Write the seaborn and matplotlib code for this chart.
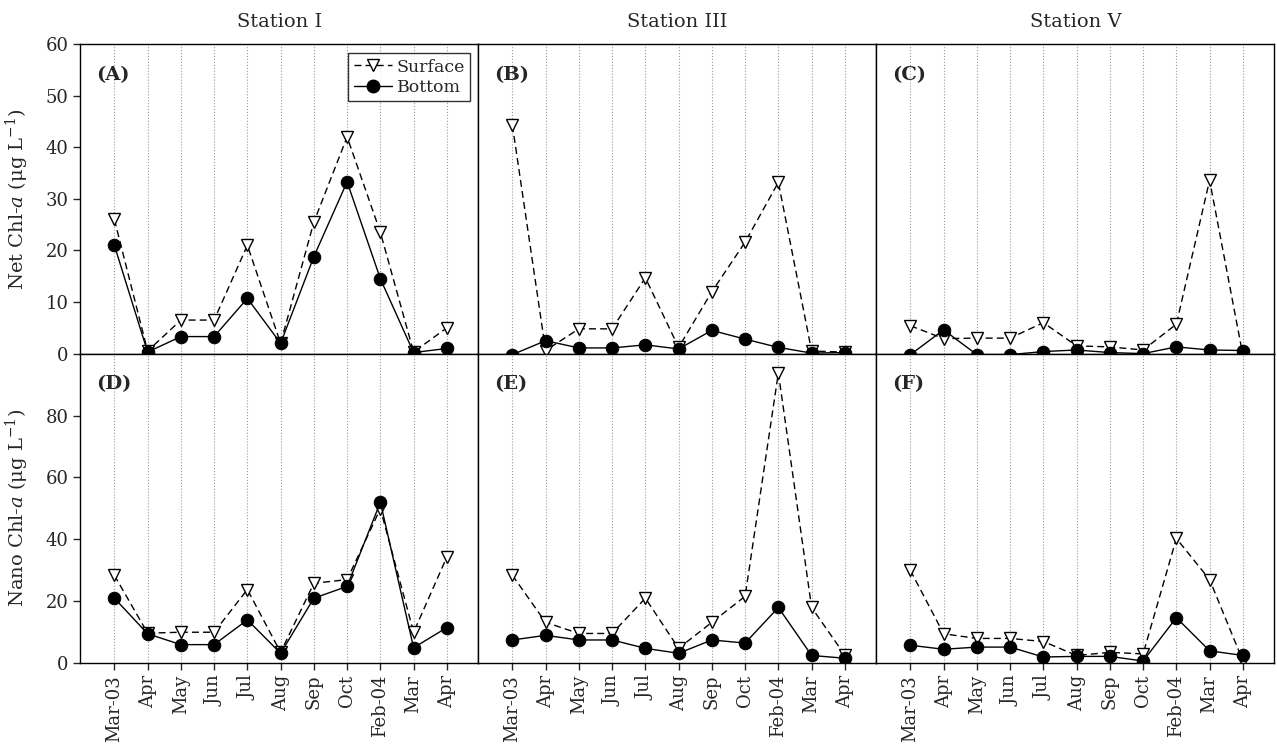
import numpy as np
import pandas as pd
import matplotlib.pyplot as plt
import seaborn as sns
from matplotlib.lines import Line2D

months = ['Mar-03', 'Apr', 'May', 'Jun', 'Jul', 'Aug', 'Sep', 'Oct', 'Feb-04', 'Mar', 'Apr']
stations = ['Station I', 'Station III', 'Station V']
panel_labels = ['(A)', '(B)', '(C)', '(D)', '(E)', '(F)']

# Net Chl-a (ug/L)
net_surface_I = [26, 0.5, 6.5, 6.5, 21, 2, 25.5, 42, 23.5, 0.3, 5]
net_bottom_I = [21, 0.3, 3.3, 3.3, 10.7, 2, 18.8, 33.3, 14.5, 0.2, 1]
net_surface_III = [44.3, 0.6, 4.8, 4.8, 14.7, 1.2, 12, 21.6, 33.2, 0.5, 0.3]
net_bottom_III = [-0.2, 2.5, 1.1, 1.1, 1.7, 0.9, 4.5, 2.8, 1.2, 0.1, 0.2]
net_surface_V = [5.4, 2.9, 3, 3, 6, 1.5, 1.3, 0.7, 5.7, 33.6, -0.3]
net_bottom_V = [-0.2, 4.6, -0.2, -0.2, 0.4, 0.7, 0.2, 0, 1.3, 0.7, 0.6]

# Nano Chl-a (ug/L)
nano_surface_I = [28.4, 9.7, 10, 10, 23.8, 3.5, 25.8, 27, 49.9, 10, 34.3]
nano_bottom_I = [21, 9.5, 6, 6, 14, 3.2, 21, 24.8, 52, 5, 11.5]
nano_surface_III = [28.4, 13.2, 9.6, 9.6, 21, 4.8, 13.2, 21.6, 93.8, 18, 2.6]
nano_bottom_III = [7.5, 9, 7.5, 7.5, 4.8, 3.2, 7.5, 6.5, 18, 2.5, 1.6]
nano_surface_V = [30, 9.5, 8, 8, 7, 2.5, 3.5, 3, 40.3, 27, 0.8]
nano_bottom_V = [5.8, 4.5, 5.2, 5.2, 2, 2.2, 2.2, 0.7, 14.7, 4, 2.5]

net = [(net_surface_I, net_bottom_I), (net_surface_III, net_bottom_III), (net_surface_V, net_bottom_V)]
nano = [(nano_surface_I, nano_bottom_I), (nano_surface_III, nano_bottom_III), (nano_surface_V, nano_bottom_V)]

sns.set_style('white')
plt.rcParams['font.family'] = ['DejaVu Serif']
plt.rcParams['mathtext.fontset'] = 'dejavuserif'

fig, axes = plt.subplots(2, 3, figsize=(12.77, 7.46), dpi=100, sharex=True)
fig.subplots_adjust(left=0.063, right=0.998, top=0.941, bottom=0.111, hspace=0, wspace=0)

x = np.arange(len(months))

for row, data in enumerate([net, nano]):
    for col in range(3):
        ax = axes[row, col]
        surf, bott = data[col]
        df = pd.DataFrame({'x': x, 'surface': surf, 'bottom': bott})
        sns.lineplot(data=df, x='x', y='surface', ax=ax, color='black', linestyle=(0, (5, 3)),
                     lw=1.0, marker='v', markersize=9, markerfacecolor='white',
                     markeredgecolor='black', markeredgewidth=1.0)
        sns.lineplot(data=df, x='x', y='bottom', ax=ax, color='black', lw=1.0,
                     marker='o', markersize=9, markerfacecolor='black', markeredgecolor='black')
        ax.set_xlim(-1.02, 10.95)
        if row == 0:
            ax.set_ylim(0, 60)
            ax.set_yticks(range(0, 61, 10))
            ax.set_title(stations[col], fontsize=14, pad=12)
        else:
            ax.set_ylim(0, 100)
            ax.set_yticks(range(0, 81, 20))
        ax.grid(axis='x', linestyle=':', color='#999999', lw=0.8)
        for s in ax.spines.values():
            s.set_color('black')
            s.set_linewidth(1.0)
        ax.set_xlabel('')
        ax.set_ylabel('')
        ax.set_xticks(x)
        ax.text(0.04, 0.93, panel_labels[row * 3 + col], transform=ax.transAxes,
                fontsize=14, fontweight='bold', va='top', ha='left')
        if col == 0:
            ax.tick_params(axis='y', direction='out', length=5, width=1, labelsize=13, left=True)
        else:
            ax.tick_params(axis='y', left=False, labelleft=False)
        if row == 1:
            ax.set_xticklabels(months, rotation=90, fontsize=13)
            ax.tick_params(axis='x', direction='out', length=5, width=1, bottom=True)
        else:
            ax.tick_params(axis='x', bottom=False)

axes[0, 0].set_ylabel('Net Chl-$a$ ($\\mathregular{\u03bc}$g L$^{-1}$)', fontsize=14)
axes[1, 0].set_ylabel('Nano Chl-$a$ ($\\mathregular{\u03bc}$g L$^{-1}$)', fontsize=14)
for ax in axes[:, 0]:
    ax.yaxis.set_label_coords(-0.125, 0.5)

handles = [
    Line2D([], [], color='black', linestyle=(0, (5, 3)), lw=1.0, marker='v', markersize=9,
           markerfacecolor='white', markeredgecolor='black'),
    Line2D([], [], color='black', lw=1.0, marker='o', markersize=9, markerfacecolor='black'),
]
leg = axes[0, 0].legend(handles, ['Surface', 'Bottom'], loc='upper right', fontsize=12.5,
                        frameon=True, fancybox=False, edgecolor='black', handlelength=2.2,
                        handletextpad=0.3, borderpad=0.3, labelspacing=0.2,
                        borderaxespad=0, bbox_to_anchor=(0.98, 0.97))
leg.get_frame().set_linewidth(1.0)

plt.savefig('out.png', dpi=100)
plt.close()
